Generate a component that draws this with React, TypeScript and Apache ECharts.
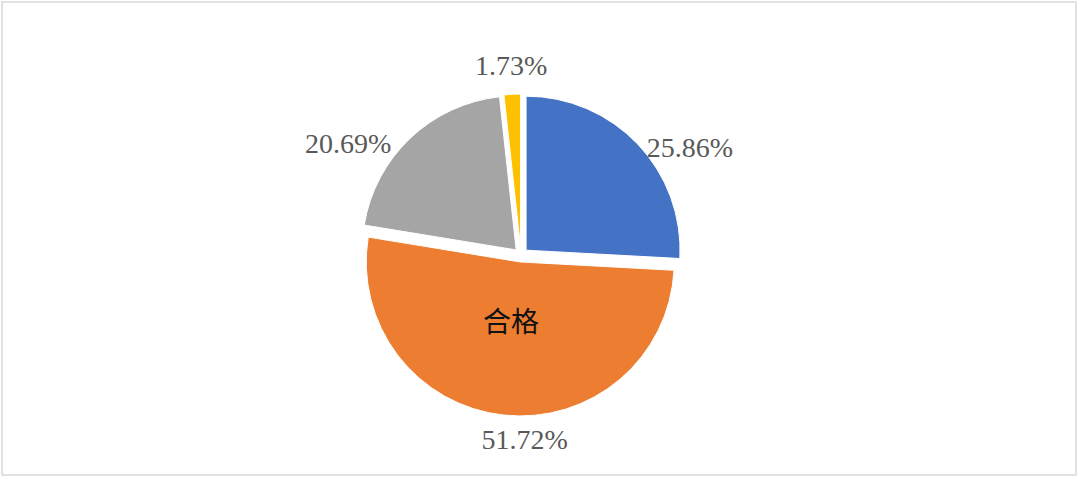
import React, { useEffect, useRef } from "react";
import * as echarts from "echarts";

const CATEGORIES = ["良好", "合格", "基本合格", "不合格"];
const VALUES = [25.86, 51.72, 20.69, 1.73];
const COLORS = ["#4472C4", "#ED7D31", "#A5A5A5", "#FFC000"];
const INNER_LABEL_INDEX = 1;

const CENTER = [521, 255];
const RADIUS = 154;
const EXPLODE = 7;
// small per-label nudges (px) relative to the slice's outer bisector point
const LABEL_NUDGE = [
  [52, 3],
  [21, 24],
  [-62, 5],
  [-1, -29],
];
const INNER_NUDGE = [-1, -19];

const total = VALUES.reduce((a, b) => a + b, 0);
function bisector(i: number): [number, number] {
  let start = 0;
  for (let k = 0; k < i; k++) start += VALUES[k];
  const mid = ((start + VALUES[i] / 2) / total) * Math.PI * 2;
  return [Math.sin(mid), -Math.cos(mid)];
}

export default function App() {
  const ref = useRef<HTMLDivElement>(null);
  useEffect(() => {
    if (!ref.current) return;
    const chart = echarts.init(ref.current, undefined, { renderer: "svg" });
    const data = CATEGORIES.map((name, i) => ({
      name,
      value: VALUES[i],
      selected: true,
      itemStyle: { color: COLORS[i] },
    }));

    const pctLabels = VALUES.map((v, i) => {
      const [dx, dy] = bisector(i);
      const r = RADIUS + EXPLODE;
      return {
        type: "text",
        z: 100,
        x: CENTER[0] + dx * r + LABEL_NUDGE[i][0],
        y: CENTER[1] + dy * r + LABEL_NUDGE[i][1],
        silent: true,
        style: {
          text: v.toFixed(2) + "%",
          fontFamily: "'Liberation Serif', 'Times New Roman', serif",
          fontSize: 28,
          fill: "#595959",
          align: "center",
          verticalAlign: "middle",
        },
      };
    });
    const [idx, idy] = bisector(INNER_LABEL_INDEX);
    const ir = EXPLODE + RADIUS * 0.5;
    const innerLabel = {
      type: "text",
      z: 100,
      x: CENTER[0] + idx * ir + INNER_NUDGE[0],
      y: CENTER[1] + idy * ir + INNER_NUDGE[1],
      silent: true,
      style: {
        text: CATEGORIES[INNER_LABEL_INDEX],
        fontFamily: "'Noto Sans CJK SC', sans-serif",
        fontSize: 28,
        fill: "#111111",
        align: "center",
        verticalAlign: "middle",
      },
    };

    chart.setOption({
      animation: false,
      graphic: [
        {
          type: "rect",
          z: 100,
          shape: { x: 2, y: 2, width: 1074, height: 473 },
          style: { fill: "none", stroke: "#d9d9d9", lineWidth: 1.5 },
          silent: true,
        },
        ...pctLabels,
        innerLabel,
      ],
      series: [
        {
          type: "pie",
          center: CENTER,
          radius: RADIUS,
          startAngle: 90,
          clockwise: true,
          selectedMode: "multiple",
          selectedOffset: EXPLODE,
          avoidLabelOverlap: false,
          emphasis: { disabled: true },
          label: { show: false },
          labelLine: { show: false },
          itemStyle: { borderColor: "#ffffff", borderWidth: 1 },
          data,
        },
      ],
    });
    return () => chart.dispose();
  }, []);
  return (
    <div
      ref={ref}
      style={{ position: "absolute", left: 0, top: 0, width: 1080, height: 479, background: "#ffffff" }}
    />
  );
}
